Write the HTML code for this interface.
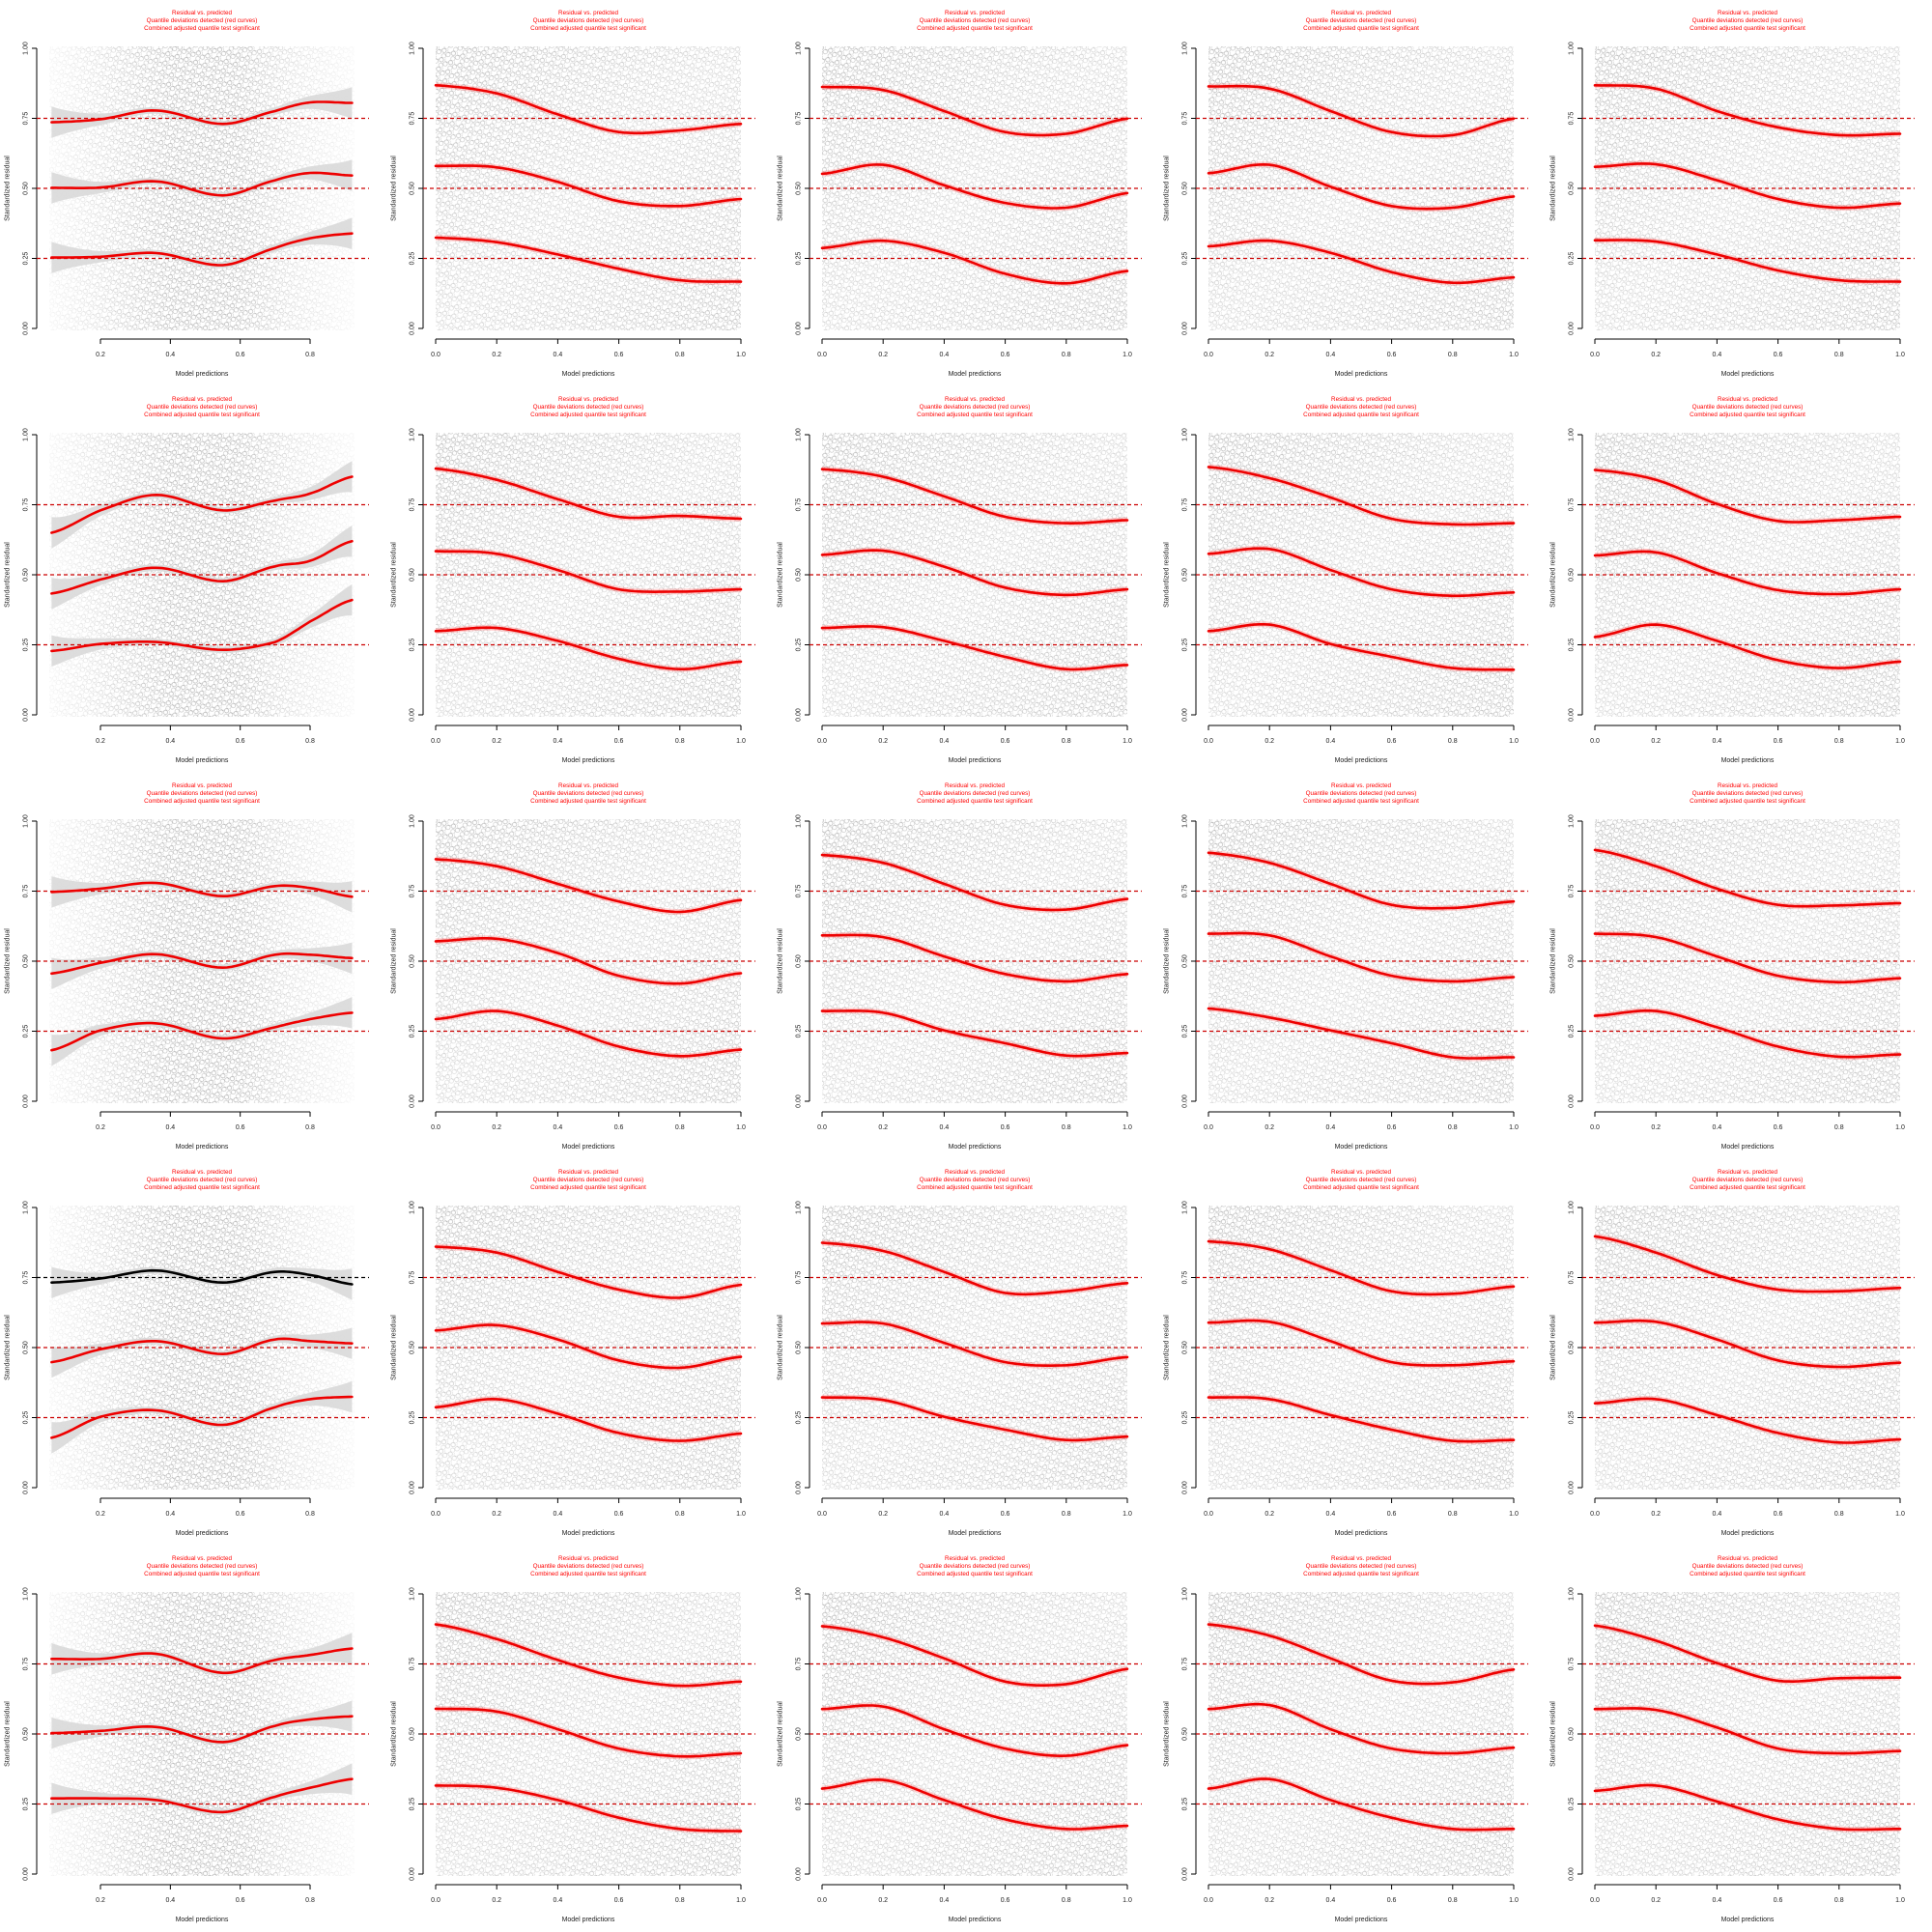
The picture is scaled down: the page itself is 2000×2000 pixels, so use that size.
<!DOCTYPE html>
<html><head><meta charset="utf-8"><style>
html,body{margin:0;padding:0;background:#fff;}
svg{display:block;font-family:"Liberation Sans",sans-serif;}
</style></head><body>
<svg id="chart" width="2000" height="2000" viewBox="0 0 2000 2000" xmlns="http://www.w3.org/2000/svg">
<defs>
<pattern id="dots" width="10" height="10" patternUnits="userSpaceOnUse" patternTransform="rotate(17)">
<circle cx="2.5" cy="2.5" r="2.2" fill="none" stroke="#444" stroke-width="0.55" opacity="0.5"/>
<circle cx="7.6" cy="5.4" r="2.2" fill="none" stroke="#444" stroke-width="0.55" opacity="0.42"/>
<circle cx="3.6" cy="8" r="2.2" fill="none" stroke="#444" stroke-width="0.55" opacity="0.35"/>
<circle cx="8.4" cy="1" r="2.2" fill="none" stroke="#444" stroke-width="0.55" opacity="0.28"/>
</pattern>
<linearGradient id="g0" x1="0" y1="0" x2="1" y2="0">
<stop offset="0" stop-color="#fff" stop-opacity="0.15"/><stop offset="0.25" stop-color="#fff" stop-opacity="0.7"/>
<stop offset="0.4" stop-color="#fff" stop-opacity="1"/><stop offset="0.62" stop-color="#fff" stop-opacity="1"/>
<stop offset="0.8" stop-color="#fff" stop-opacity="0.5"/><stop offset="1" stop-color="#fff" stop-opacity="0.12"/>
</linearGradient>
<linearGradient id="g1" x1="0" y1="0" x2="1" y2="1">
<stop offset="0" stop-color="#fff" stop-opacity="1"/><stop offset="0.25" stop-color="#fff" stop-opacity="0.8"/><stop offset="0.5" stop-color="#fff" stop-opacity="0.6"/>
<stop offset="1" stop-color="#fff" stop-opacity="0.9"/>
</linearGradient>
<mask id="m0" maskUnits="objectBoundingBox" maskContentUnits="objectBoundingBox"><rect x="0" y="0" width="1" height="1" fill="url(#g0)"/></mask>
<mask id="m1" maskUnits="objectBoundingBox" maskContentUnits="objectBoundingBox"><rect x="0" y="0" width="1" height="1" fill="url(#g1)"/></mask>
</defs>
</svg>
<script>
// x positions of read-off curve values
const xsCol0 = [0.06, 0.2, 0.36, 0.55, 0.7, 0.8, 0.92];
const xsOther = [0, 0.2, 0.4, 0.6, 0.8, 1.0];
const ticksCol0 = ["0.2", "0.4", "0.6", "0.8"];
const ticksOther = ["0.0", "0.2", "0.4", "0.6", "0.8", "1.0"];
const yTicks = ["0.00", "0.25", "0.50", "0.75", "1.00"];
const quantiles = [0.25, 0.5, 0.75];
// 75% quantile curves, panels row-major (5 rows x 5 cols)
const q75 = [
[.736,.747,.778,.730,.776,.807,.805],[.868,.839,.764,.701,.707,.730],[.862,.851,.776,.701,.695,.749],[.864,.856,.776,.701,.690,.749],[.868,.856,.776,.718,.690,.695],
[.65,.73,.785,.73,.765,.79,.85],[.879,.839,.770,.707,.710,.700],[.877,.850,.780,.707,.684,.695],[.885,.845,.776,.700,.680,.684],[.874,.839,.753,.692,.695,.707],
[.747,.759,.779,.732,.768,.761,.730],[.864,.839,.776,.713,.676,.718],[.879,.851,.776,.701,.684,.722],[.887,.851,.776,.701,.690,.713],[.897,.839,.759,.701,.699,.707],
[.732,.747,.775,.732,.770,.759,.726],[.860,.839,.770,.707,.678,.724],[.874,.845,.770,.695,.701,.730],[.879,.851,.776,.701,.692,.718],[.897,.839,.759,.707,.701,.713],
[.768,.768,.786,.718,.764,.782,.805],[.891,.839,.764,.701,.672,.687],[.885,.845,.770,.687,.678,.732],[.891,.851,.770,.690,.684,.730],[.887,.833,.753,.690,.699,.701]
];
const q50 = [
[.502,.503,.525,.475,.529,.555,.546],[.580,.575,.523,.454,.437,.462],[.552,.584,.511,.448,.431,.483],[.554,.584,.506,.437,.431,.471],[.577,.586,.529,.462,.431,.446],
[.433,.483,.525,.477,.53,.55,.62],[.584,.575,.517,.448,.440,.448],[.571,.586,.529,.454,.428,.448],[.575,.592,.517,.448,.425,.437],[.569,.580,.506,.445,.431,.448],
[.456,.494,.525,.477,.523,.523,.511],[.571,.580,.529,.448,.420,.457],[.592,.586,.517,.454,.428,.454],[.598,.592,.517,.448,.428,.443],[.598,.586,.517,.448,.425,.439],
[.448,.494,.523,.477,.529,.523,.515],[.561,.580,.529,.454,.428,.467],[.586,.586,.517,.448,.437,.466],[.589,.592,.523,.448,.437,.451],[.589,.592,.529,.454,.431,.446],
[.503,.511,.525,.471,.529,.552,.563],[.590,.580,.517,.448,.420,.431],[.589,.598,.517,.448,.422,.460],[.589,.603,.517,.448,.431,.451],[.589,.586,.523,.448,.431,.439]
];
const q25 = [
[.253,.256,.269,.226,.287,.322,.339],[.324,.308,.264,.213,.172,.167],[.287,.313,.270,.195,.161,.205],[.293,.313,.270,.201,.163,.182],[.315,.310,.264,.207,.172,.167],
[.228,.253,.26,.232,.26,.333,.41],[.299,.310,.264,.200,.163,.190],[.310,.313,.264,.207,.163,.178],[.299,.322,.253,.207,.167,.161],[.278,.322,.264,.195,.167,.190],
[.182,.253,.278,.224,.264,.293,.316],[.293,.322,.270,.195,.161,.184],[.322,.316,.253,.207,.163,.172],[.331,.299,.253,.207,.157,.157],[.305,.322,.264,.195,.159,.167],
[.178,.253,.276,.224,.287,.316,.324],[.287,.316,.264,.195,.167,.193],[.322,.313,.253,.207,.170,.182],[.322,.316,.259,.207,.167,.170],[.301,.316,.259,.195,.161,.172],
[.270,.270,.264,.221,.276,.308,.339],[.316,.308,.264,.201,.161,.153],[.305,.336,.264,.195,.161,.172],[.305,.339,.264,.201,.161,.161],[.297,.316,.259,.195,.161,.161]
];
// significance of each 75% quantile curve (false = drawn black)
const sig75 = [true,true,true,true,true, true,true,true,true,true, true,true,true,true,true, false,true,true,true,true, true,true,true,true,true];

const NS = "http://www.w3.org/2000/svg";
const svg = document.getElementById("chart");
function mk(tag, attrs, parent, text) {
  const e = document.createElementNS(NS, tag);
  for (const k in attrs) e.setAttribute(k, attrs[k]);
  if (text !== undefined) e.textContent = text;
  (parent || svg).appendChild(e);
  return e;
}
function xScale(c, v) { return c === 0 ? 104 + (v - 0.2) * 361.7 : 51 + 316 * v; }
function yScale(v) { return 340 - 290 * v; }
function spline(xs, ys, n) {
  const out = [];
  for (let i = 0; i < xs.length - 1; i++) {
    const i0 = Math.max(i - 1, 0), i3 = Math.min(i + 2, xs.length - 1);
    for (let s = 0; s < n; s++) {
      const t = s / n, t2 = t * t, t3 = t2 * t;
      const cr = (p0, p1, p2, p3) => 0.5 * (2 * p1 + (-p0 + p2) * t + (2 * p0 - 5 * p1 + 4 * p2 - p3) * t2 + (-p0 + 3 * p1 - 3 * p2 + p3) * t3);
      out.push([xs[i] + (xs[i + 1] - xs[i]) * t, cr(ys[i0], ys[i], ys[i + 1], ys[i3])]);
    }
  }
  out.push([xs[xs.length - 1], ys[ys.length - 1]]);
  return out;
}

for (let r = 0; r < 5; r++) {
  for (let c = 0; c < 5; c++) {
    const idx = r * 5 + c;
    const g = mk("g", { transform: `translate(${400 * c},${400 * r})` });
    
    
    const titles = ["Residual vs. predicted", "Quantile deviations detected (red curves)", "Combined adjusted quantile test significant"];
    titles.forEach((t, i) => {
      const tx = mk("text", { x: 209, y: 15 + 8 * i, "font-size": 6.3, fill: "#ff0000", "text-anchor": "middle" }, g, t);
      
      
    });
    const sc = mk("rect", { x: 51, y: 48, width: 316, height: 294, fill: "url(#dots)", mask: c === 0 ? "url(#m0)" : "url(#m1)" }, g);
    
    
    const ya = mk("g", {}, g);
    
    
    mk("line", { x1: 38, y1: yScale(0), x2: 38, y2: yScale(1), stroke: "#000", "stroke-width": 1 }, ya);
    yTicks.forEach(lbl => {
      const yy = yScale(parseFloat(lbl));
      mk("line", { x1: 33, y1: yy, x2: 38, y2: yy, stroke: "#000", "stroke-width": 1 }, ya);
      const t = mk("text", { x: 0, y: 0, "font-size": 7, "text-anchor": "middle", transform: `translate(28.5,${yy}) rotate(-90)`, fill: "#222" }, ya, lbl);
      
      
    });
    const yl = mk("text", { x: 0, y: 0, "font-size": 7, "text-anchor": "middle", transform: "translate(9.5,195) rotate(-90)", fill: "#222" }, g, "Standardized residual");
    
    
    const xa = mk("g", {}, g);
    
    
    const tk = c === 0 ? ticksCol0 : ticksOther;
    mk("line", { x1: xScale(c, parseFloat(tk[0])), y1: 351, x2: xScale(c, parseFloat(tk[tk.length - 1])), y2: 351, stroke: "#000", "stroke-width": 1 }, xa);
    tk.forEach(lbl => {
      const xx = xScale(c, parseFloat(lbl));
      mk("line", { x1: xx, y1: 351, x2: xx, y2: 356, stroke: "#000", "stroke-width": 1 }, xa);
      const t = mk("text", { x: xx, y: 369, "font-size": 7, "text-anchor": "middle", fill: "#222" }, xa, lbl);
      
      
    });
    const xl = mk("text", { x: 209, y: 389, "font-size": 7, "text-anchor": "middle", fill: "#222" }, g, "Model predictions");
    
    
    const xs = c === 0 ? xsCol0 : xsOther;
    const sets = [q25[idx], q50[idx], q75[idx]];
    sets.forEach((vals, qi) => {
      const sigc = qi === 2 ? sig75[idx] : true;
      const col = sigc ? "#ee0000" : "#000000";
      const pts = spline(xs, vals, 12);
      if (c === 0) {
        const up = [], dn = [];
        pts.forEach(([x, y]) => {
          const t = (x - 0.49) / 0.43;
          const hw = 0.011 + 0.045 * t * t * t * t;
          up.push(`${xScale(c, x).toFixed(1)},${yScale(y + hw).toFixed(1)}`);
          dn.unshift(`${xScale(c, x).toFixed(1)},${yScale(y - hw).toFixed(1)}`);
        });
        const band = mk("polygon", { points: up.concat(dn).join(" "), fill: "#d9d9d9", opacity: 0.9 }, g);
        
        
      }
      const d = pts.map(([x, y], i) => (i ? "L" : "M") + xScale(c, x).toFixed(1) + "," + yScale(y).toFixed(1)).join("");
      if (c !== 0) mk("path", { d, fill: "none", stroke: "rgba(255,0,0,0.18)", "stroke-width": 6 }, g);
      const dash = mk("line", { x1: 38, y1: yScale(quantiles[qi]), x2: 382, y2: yScale(quantiles[qi]), stroke: sigc ? "#cc0000" : "#000", "stroke-width": 1.2, "stroke-dasharray": "4,3" }, g);
      
      
      const p = mk("path", { d, fill: "none", stroke: col, "stroke-width": 2.6, "stroke-linecap": "round" }, g);
      
      
    });
  }
}
</script>
</body></html>
